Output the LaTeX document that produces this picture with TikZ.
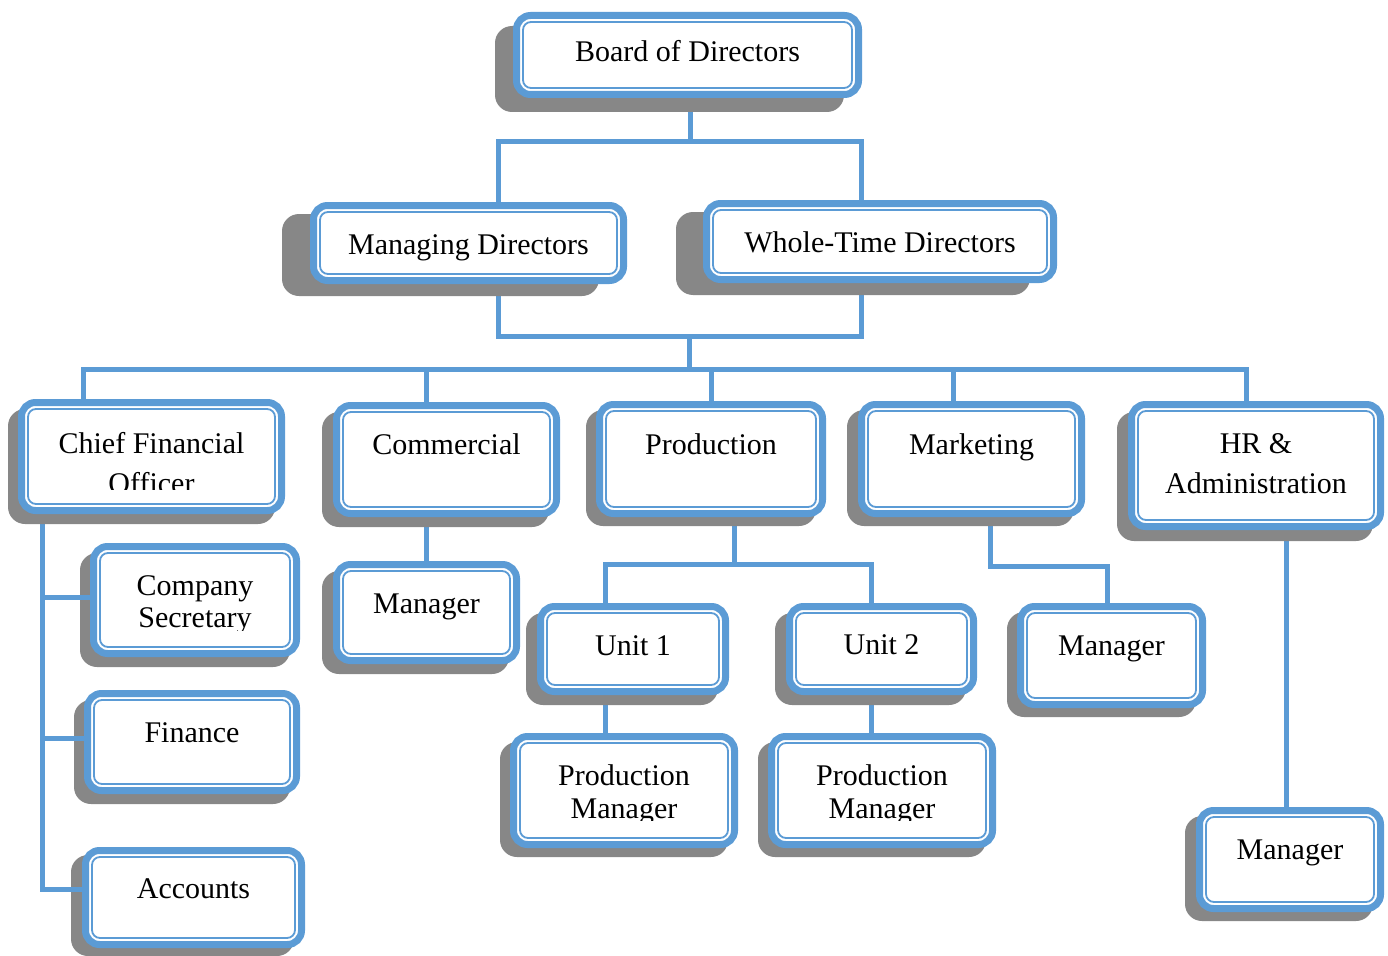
\documentclass[tikz,border=0pt]{standalone}
\usepackage{fontspec}
\setmainfont{Liberation Serif}
\newlength{\du}
\setlength{\du}{1pt}
\definecolor{orgblue}{rgb}{0.356863, 0.607843, 0.835294}
\definecolor{shadegray}{rgb}{0.529412, 0.529412, 0.529412}
\pgfdeclarelayer{back}
\pgfdeclarelayer{shade}
\pgfdeclarelayer{mid}
\pgfsetlayers{back,shade,mid,main}
\tikzset{
  orgnode/.style={draw=orgblue, line width=7\du, fill=white, rounded corners=14\du, inner sep=0pt},
  orgline/.style={draw=orgblue, line width=1.8\du, rounded corners=8\du},
  orgshade/.style={fill=shadegray, rounded corners=17\du},
  link/.style={draw=orgblue, line width=5\du},
  boxtext/.style={anchor=base, align=center, inner sep=0pt,
    font=\fontsize{30}{#1}\selectfont},
  boxtext/.default=36
}
% box: name, left, top, right, bottom, shadow dx, shadow dy
\newcommand{\orgbox}[7]{%
  \node[orgnode, minimum width={(#4-#2-7)*\du}, minimum height={(#5-#3-7)*\du}] (#1) at ({(#2+#4)/2},{(#3+#5)/2}) {};
  \draw[orgline] ([shift={(10,10)}]#1.north west) rectangle ([shift={(-10,-10)}]#1.south east);
  \begin{pgfonlayer}{shade}
  \fill[orgshade] ([shift={(#6,#7)}]#1.north west) rectangle ([shift={(#6,#7)}]#1.south east);
  \end{pgfonlayer}
}

\begin{document}
\begin{tikzpicture}[x=1\du, y=-1\du]
\useasboundingbox (0,0) rectangle (1388,955);

% boxes
\orgbox{board}{513}{12}{862}{98}{-18}{14}
\orgbox{md}{310}{202}{627}{284}{-28}{12}
\orgbox{wt}{703}{200}{1057}{283}{-27}{12}
\orgbox{cfo}{18}{399}{285}{514}{-10}{10}
\orgbox{com}{333}{402}{560}{517}{-11}{10}
\orgbox{prod}{596}{401}{826}{517}{-10}{9}
\orgbox{mkt}{858}{401}{1085}{517}{-11}{9}
\orgbox{hr}{1128}{401}{1384}{530}{-11}{11}
\orgbox{sec}{90}{543}{300}{657}{-10}{10}
\orgbox{mgrc}{333}{561}{520}{664}{-11}{10}
\orgbox{unita}{537}{603}{729}{695}{-11}{10}
\orgbox{unitb}{786}{603}{977}{695}{-11}{10}
\orgbox{mgrm}{1017}{603}{1206}{708}{-10}{9}
\orgbox{fin}{84}{690}{300}{794}{-10}{10}
\orgbox{pma}{510}{733}{738}{848}{-10}{9}
\orgbox{pmb}{768}{733}{996}{848}{-10}{9}
\orgbox{acc}{82}{847}{305}{948}{-11}{8}
\orgbox{mgrh}{1196}{807}{1384}{912}{-11}{9}

% texts (two-line texts sit on the baseline of their last line)
\node[boxtext] (board-t) at (687.5,62) {Board of Directors};
\node[boxtext] (md-t) at (468.5,254) {Managing Directors};
\node[boxtext] (wt-t) at (880,252) {Whole-Time Directors};
\begin{scope}
\clip (0,0) rectangle (1388,489);
\node[boxtext=40] (cfo-t) at (151.5,493) {Chief Financial\\Officer};
\end{scope}
\node[boxtext] (com-t) at (446.5,454) {Commercial};
\node[boxtext] (prod-t) at (711,454) {Production};
\node[boxtext] (mkt-t) at (971.5,454) {Marketing};
\node[boxtext=40] (hr-t) at (1256,493) {HR \&\\Administration};
\begin{scope}
\clip (0,0) rectangle (1388,630);
\node[boxtext=32] (sec-t) at (195,627) {Company\\Secretary};
\end{scope}
\node[boxtext] (mgrc-t) at (426.5,613) {Manager};
\node[boxtext] (unita-t) at (633,655) {Unit 1};
\node[boxtext] (unitb-t) at (881.5,654) {Unit 2};
\node[boxtext] (mgrm-t) at (1111.5,655) {Manager};
\node[boxtext] (fin-t) at (192,742) {Finance};
\begin{scope}
\clip (0,0) rectangle (1388,820);
\node[boxtext=33] (pma-t) at (624,818) {Production\\Manager};
\node[boxtext=33] (pmb-t) at (882,818) {Production\\Manager};
\end{scope}
\node[boxtext] (acc-t) at (193.5,898) {Accounts};
\node[boxtext] (mgrh-t) at (1290,859) {Manager};

% junctions
\coordinate (j1) at (690,141);
\coordinate (jl) at (498,141);
\coordinate (jr) at (861,141);
\coordinate (j2) at (689,336);
\coordinate (j3) at (689,369);
\coordinate (bl) at (83,369);
\coordinate (br) at (1246,369);
\coordinate (dcom) at (426,369);
\coordinate (dprod) at (711,369);
\coordinate (dmkt) at (953,369);
\coordinate (cs) at (42,597);
\coordinate (cf) at (42,738);
\coordinate (ca) at (42,889);
\coordinate (jp) at (734,564);
\coordinate (jua) at (605,564);
\coordinate (jub) at (871,564);
\coordinate (jma) at (990,566);
\coordinate (jmb) at (1107,566);
\coordinate (jh) at (1286,700);

\begin{pgfonlayer}{back}
\draw[link] (board.south -| j1) -- (j1);
\draw[link] (md.north -| jl) |- (jr) -- (wt.north -| jr);
\draw[link] (md.south -| jl) |- (j2) -| (wt.south -| jr);
\draw[link] (j2) -- (j3);
\draw[link] (cfo.north -| bl) |- (br) -- (hr.north -| br);
\draw[link] (dcom) -- (com.north -| dcom);
\draw[link] (dprod) -- (prod.north -| dprod);
\draw[link] (dmkt) -- (mkt.north -| dmkt);
\draw[link] (cfo.south -| cs) -- (ca);
\draw[link] (com.south -| dcom) -- (mgrc.north -| dcom);
\draw[link] (prod.south -| jp) -- (jp);
\draw[link] (unita.north -| jua) |- (jub) -- (unitb.north -| jub);
\draw[link] (unita.south -| jua) -- (pma.north -| jua);
\draw[link] (unitb.south -| jub) -- (pmb.north -| jub);
\draw[link] (mkt.south -| jma) |- (jmb) -- (mgrm.north -| jmb);
\draw[link] (hr.south -| jh) -- (mgrh.north -| jh);
\end{pgfonlayer}
\begin{pgfonlayer}{mid}
\draw[link, line cap=rect] (cs) -- (sec.west |- cs);
\draw[link, line cap=rect] (cf) -- (fin.west |- cf);
\draw[link, line cap=rect] (ca) -- (acc.west |- ca);
\end{pgfonlayer}
\end{tikzpicture}
\end{document}
